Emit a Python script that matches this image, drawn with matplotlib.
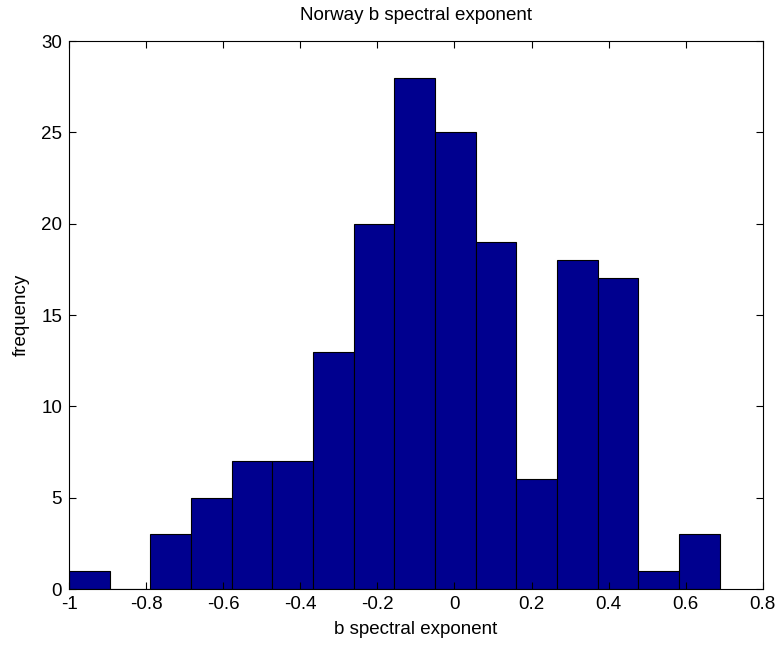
import numpy as np
import matplotlib.pyplot as plt

plt.rcParams['font.family'] = ['Liberation Sans', 'DejaVu Sans']

# histogram of b spectral exponent, 16 bins
bin_lo = -1.0
bin_hi = 0.688
counts = [1, 0, 3, 5, 7, 7, 13, 20, 28, 25, 19, 6, 18, 17, 1, 3]
edges = np.linspace(bin_lo, bin_hi, len(counts) + 1)

fig = plt.figure(figsize=(7.8, 6.48), dpi=100)
ax = fig.add_axes((0.0885, 0.091, 0.8895, 0.8457))

ax.bar(edges[:-1], counts, width=np.diff(edges), align='edge',
       color='#00008F', edgecolor='black', linewidth=0.8)

ax.set_xlim(-1, 0.8)
ax.set_ylim(0, 30)
ax.set_xticks(np.arange(-1, 0.81, 0.2))
ax.set_xticklabels(['-1', '-0.8', '-0.6', '-0.4', '-0.2', '0', '0.2', '0.4', '0.6', '0.8'])
ax.set_yticks(range(0, 31, 5))
ax.tick_params(direction='in', top=True, right=True, length=5, labelsize=13.5, pad=5)

ax.set_title('Norway b spectral exponent', fontsize=13.5, pad=15)
ax.set_xlabel('b spectral exponent', fontsize=13.5, labelpad=6)
ax.set_ylabel('frequency', fontsize=13.5, labelpad=8)

fig.savefig('out.png', dpi=100)
